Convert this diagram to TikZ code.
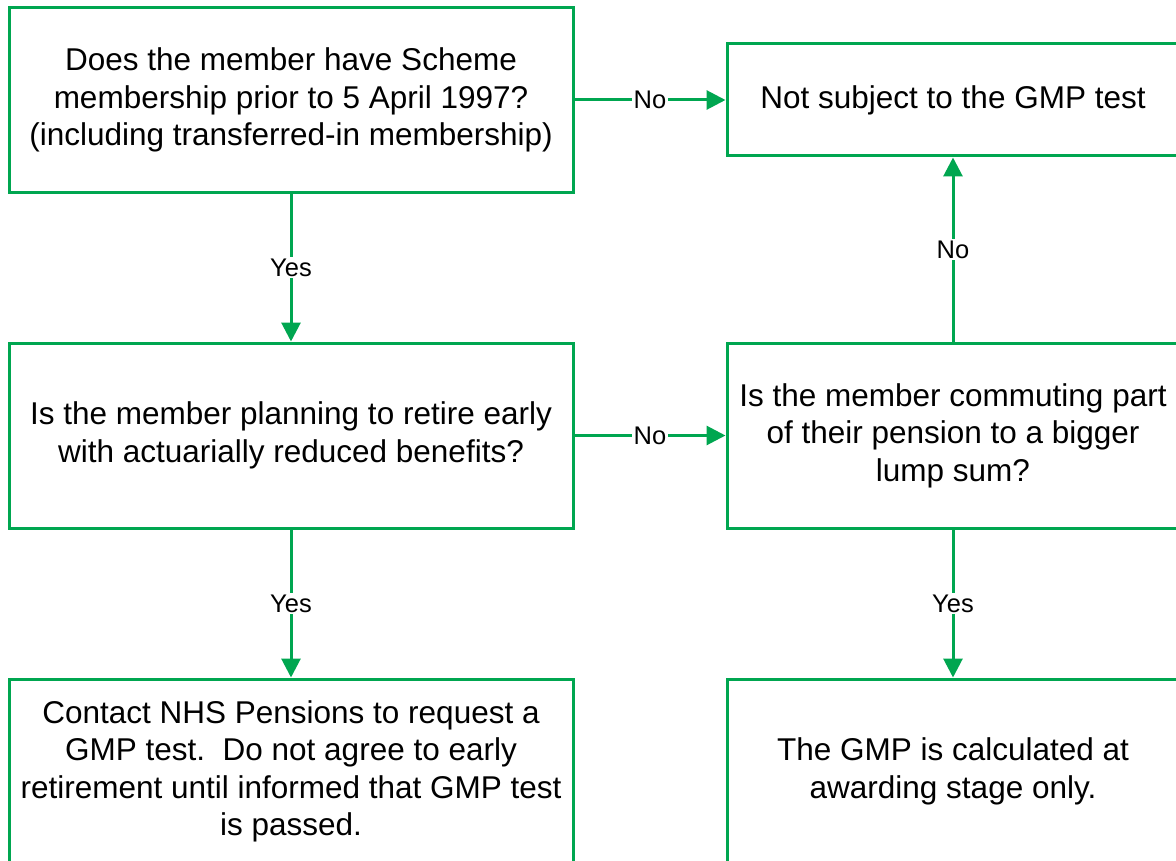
\documentclass[tikz,border=0pt]{standalone}
\usepackage{fontspec}
\setmainfont{Liberation Sans}
\usetikzlibrary{arrows.meta}
\definecolor{flowgreen}{RGB}{0,166,80}
\begin{document}
\begin{tikzpicture}[x=1pt,y=-1pt,
  box/.style={draw=flowgreen, line width=3pt, rectangle, inner sep=0pt,
    minimum width=564pt, minimum height=185pt, align=center,
    font=\fontsize{31.5}{37.5}\selectfont, text=black},
  arr/.style={draw=flowgreen, line width=3pt, -{Triangle[length=19pt,width=19pt]}},
  lbl/.style={fill=white, inner sep=1.5pt, font=\fontsize{25.5}{30}\selectfont, text=black}]
\clip (0,0) rectangle (1176,861);
\node[box] (q1) at (291,100) {Does the member have Scheme\\membership prior to 5 April 1997?\\(including transferred-in membership)};
\node[box, minimum width=452pt, minimum height=112pt] (ns) at (953,100) {Not subject to the GMP test};
\node[box] (q2) at (291,435.5) {Is the member planning to retire early\\with actuarially reduced benefits?};
\node[box, minimum width=452pt] (q3) at (953,435.5) {Is the member commuting part\\of their pension to a bigger\\lump sum?};
\node[box] (a1) at (291,771.5) {Contact NHS Pensions to request a\\GMP test.\ \ Do not agree to early\\retirement until informed that GMP test\\is passed.};
\node[box, minimum width=452pt] (a2) at (953,771.5) {The GMP is calculated at\\awarding stage only.};
\draw[arr] (q1.east) -- node[lbl]{No} (ns.west);
\draw[arr] (q1.south) -- node[lbl]{Yes} (q2.north);
\draw[arr] (q2.east) -- node[lbl]{No} (q3.west);
\draw[arr] (q3.north) -- node[lbl]{No} (ns.south);
\draw[arr] (q2.south) -- node[lbl]{Yes} (a1.north);
\draw[arr] (q3.south) -- node[lbl]{Yes} (a2.north);
\end{tikzpicture}
\end{document}
